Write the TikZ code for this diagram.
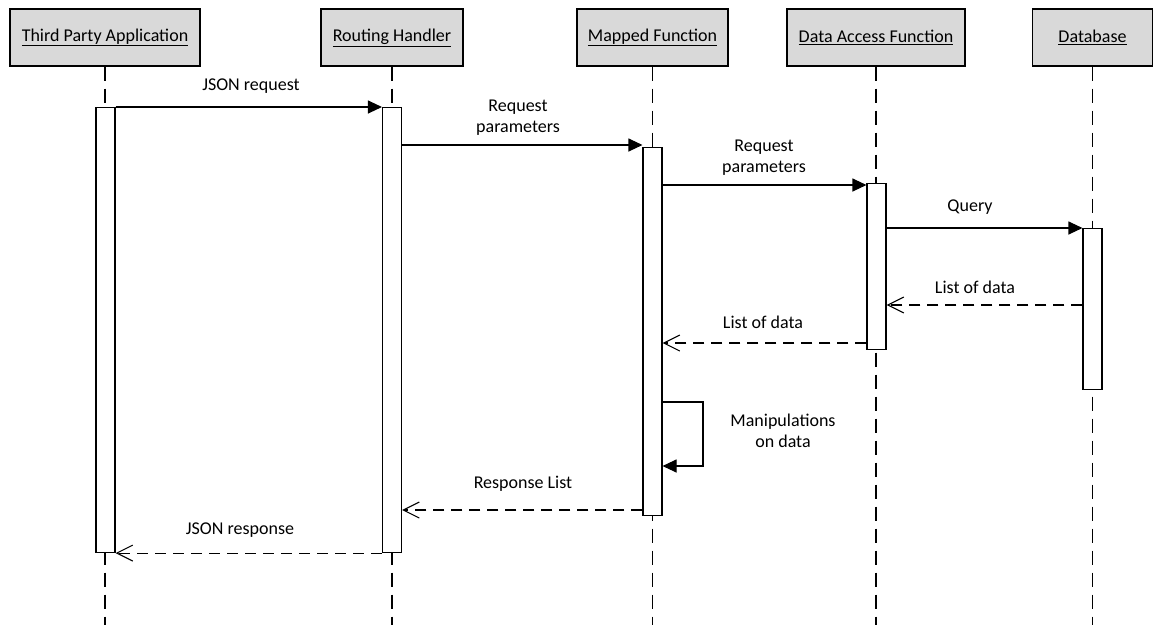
\documentclass[tikz,border=0pt]{standalone}
\usepackage{fontspec}
\setmainfont{Carlito}
\usetikzlibrary{arrows.meta}
\definecolor{headfill}{RGB}{217,217,217}
\begin{document}
\begin{tikzpicture}[x=1pt,y=-1pt,
  font=\fontsize{18}{21}\selectfont,
  line width=1.1pt,
  header/.style={draw, fill=headfill, rectangle, inner sep=0pt, minimum height=57pt},
  bar/.style={draw, fill=white, rectangle, inner sep=0pt, minimum width=19pt, anchor=north},
  lifeline/.style={dash pattern=on 14pt off 8pt},
  call/.style={-{Triangle[length=14pt,width=13pt]}},
  reply/.style={dash pattern=on 11pt off 7pt, -{Straight Barb[length=16pt,width=16pt]}},
  lbl/.style={align=center, inner sep=0pt}]
\useasboundingbox (0,0) rectangle (1160,625);

% participants
\node[header, minimum width=190pt] (h1) at (105,37.5) {\underline{Third Party Application}};
\node[header, minimum width=142pt] (h2) at (392,37.5) {\underline{Routing Handler}};
\node[header, minimum width=151pt] (h3) at (652.5,37.5) {\underline{Mapped Function}};
\node[header, minimum width=178pt] (h4) at (876,37.5) {\underline{Data Access Function}};
\node[header, minimum width=120pt] (h5) at (1092.5,37.5) {\underline{Database}};

% lifelines
\coordinate (bottom) at (0,625);
\foreach \h in {h1,h2,h3,h4,h5}
  \draw[lifeline] (\h.south) -- (\h.south |- bottom);

% activation bars
\node[bar, minimum height=445pt] (b1) at (105.5,107) {};
\node[bar, minimum height=445pt] (b2) at (392,107) {};
\node[bar, minimum height=368pt] (b3) at (652.5,147) {};
\node[bar, minimum height=166pt] (b4) at (876.5,183) {};
\node[bar, minimum height=161pt] (b5) at (1092.5,228) {};

% calls
\draw[call] (b1.north east) -- (b2.north west);
\node[lbl] at (251,86) {JSON request};

\coordinate (m2) at (0,145);
\draw[call] (b2.east |- m2) -- (b3.west |- m2);
\node[lbl] at (518,117.5) {Request\\parameters};

\coordinate (m3) at (0,185);
\draw[call] (b3.east |- m3) -- (b4.west |- m3);
\node[lbl] at (764,157.5) {Request\\parameters};

\draw[call] (b4.east |- b5.north) -- (b5.north west);
\node[lbl] at (970,207) {Query};

% replies
\coordinate (r1) at (0,305);
\draw[reply] (b5.west |- r1) -- (b4.east |- r1);
\node[lbl] at (975,287) {List of data};

\coordinate (r2) at (0,343);
\draw[reply] (b4.west |- r2) -- (b3.east |- r2);
\node[lbl] at (763,322) {List of data};

% self call
\coordinate (s1) at (703,402);
\coordinate (s2) at (703,466);
\draw[call] (b3.east |- s1) -- (s1) -- (s2) -- (b3.east |- s2);
\node[lbl] at (783,430.5) {Manipulations\\on data};

\coordinate (r3) at (0,510);
\draw[reply] (b3.west |- r3) -- (b2.east |- r3);
\node[lbl] at (523,484) {Response List};

\draw[reply] (b2.south west) -- (b1.south east);
\node[lbl] at (240,530) {JSON response};
\end{tikzpicture}
\end{document}
